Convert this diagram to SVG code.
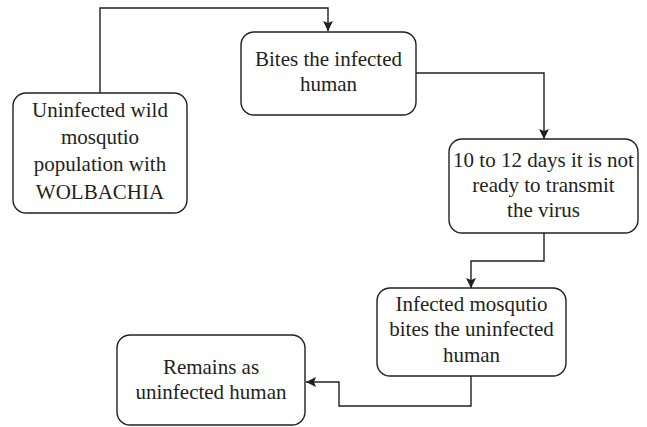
<svg xmlns="http://www.w3.org/2000/svg" width="647" height="427" viewBox="0 0 647 427">
<style>
.box{fill:#fff;stroke:#231f20;stroke-width:1.4}
.t{font-family:'Liberation Serif','DejaVu Serif',serif;font-size:21px;fill:#231f20;text-anchor:middle}
.c{fill:none;stroke:#231f20;stroke-width:1.4}
</style>
<defs>
<marker id="ah" viewBox="0 0 10 10" refX="10" refY="5" markerWidth="10" markerHeight="10" markerUnits="userSpaceOnUse" orient="auto">
<path d="M0,0 L10,5 L0,10 L2,5 Z" fill="#231f20"/>
</marker>
</defs>
<rect width="647" height="427" fill="#fff"/>
<g id="connectors">
<path class="c" d="M100,93 V8 H328 V31" marker-end="url(#ah)"/>
<path class="c" d="M416,73 H544 V139" marker-end="url(#ah)"/>
<path class="c" d="M544,233 V261 H471 V288" marker-end="url(#ah)"/>
<path class="c" d="M471,376 V406 H339 V382 H306" marker-end="url(#ah)"/>
</g>
<g font-family="Liberation Serif, DejaVu Serif, serif">
<g id="n1">
<rect class="box" x="13" y="93" width="174" height="120" rx="13"/>
<text class="t" x="100" y="117">Uninfected wild</text>
<text class="t" x="100" y="144">mosqutio</text>
<text class="t" x="100" y="171">population with</text>
<text class="t" x="100" y="199">WOLBACHIA</text>
</g>
<g id="n2">
<rect class="box" x="241" y="32" width="175" height="83" rx="13"/>
<text class="t" x="328.5" y="66">Bites the infected</text>
<text class="t" x="328.5" y="91">human</text>
</g>
<g id="n3">
<rect class="box" x="449" y="139" width="189" height="94" rx="13"/>
<text class="t" x="543.5" y="167">10 to 12 days it is not</text>
<text class="t" x="543.5" y="192">ready to transmit</text>
<text class="t" x="543.5" y="217">the virus</text>
</g>
<g id="n4">
<rect class="box" x="377" y="288" width="189" height="88" rx="13"/>
<text class="t" x="471.5" y="311">Infected mosqutio</text>
<text class="t" x="471.5" y="336">bites the uninfected</text>
<text class="t" x="471.5" y="362">human</text>
</g>
<g id="n5">
<rect class="box" x="117" y="335" width="188" height="90" rx="13"/>
<text class="t" x="211" y="374">Remains as</text>
<text class="t" x="211" y="399">uninfected human</text>
</g>
</g>
</svg>
